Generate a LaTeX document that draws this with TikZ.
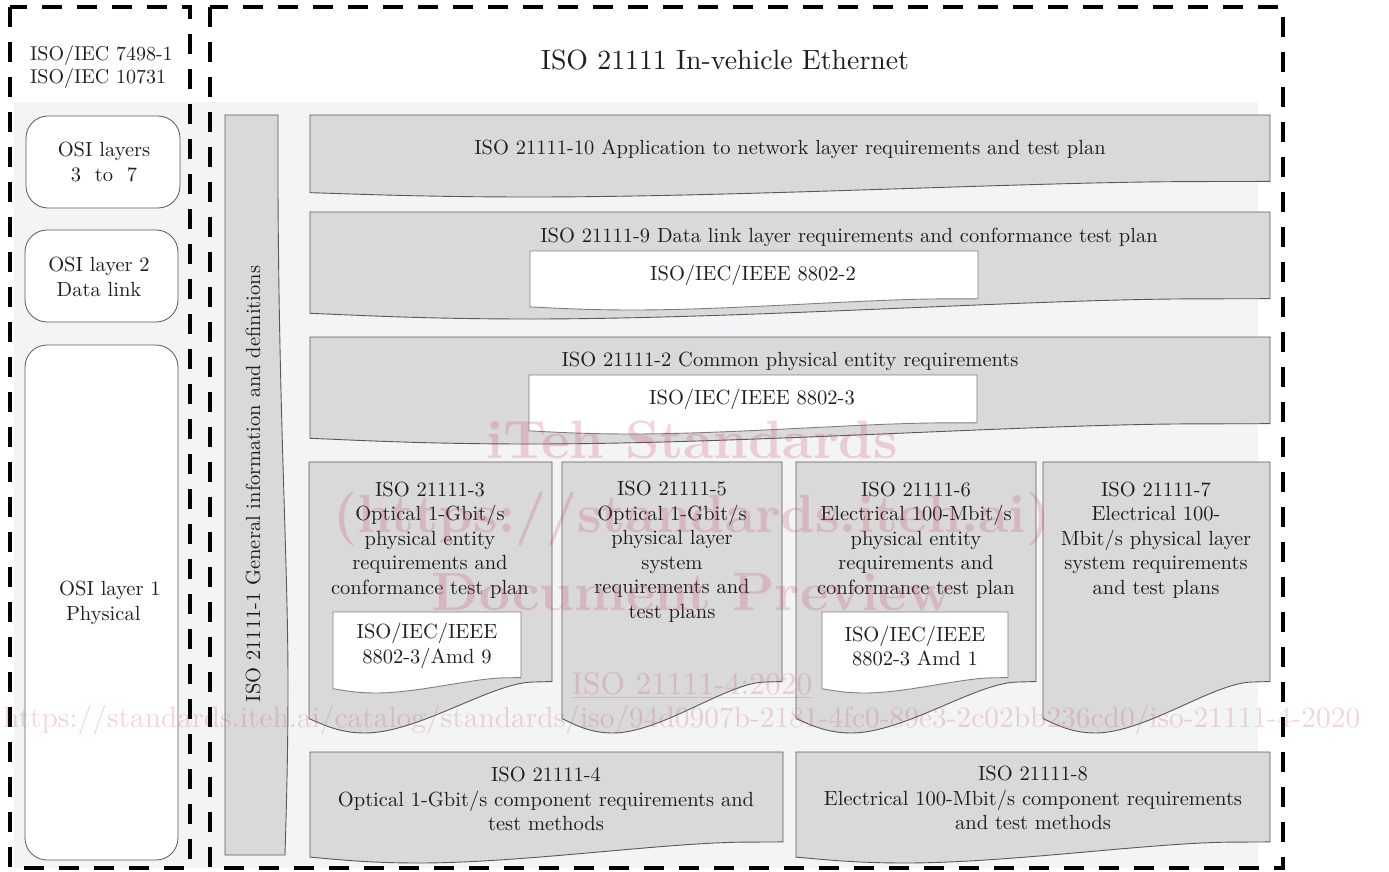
\documentclass[tikz,border=0pt]{standalone}
\usepackage{fontspec}
\setmainfont{lmroman10-regular.otf}[BoldFont=lmroman10-bold.otf]
\definecolor{boxgray}{HTML}{D9D9D8}
\definecolor{edgegray}{HTML}{595959}
\definecolor{inneredge}{HTML}{7F7F7F}
\definecolor{bgc}{HTML}{F3F4F6}
\definecolor{txtc}{HTML}{1E1E1E}
\definecolor{wmc}{HTML}{C8405E}
\newcommand\docpath[5]{%
  \pgfmathsetmacro\dW{#4-#2}%
  \pgfmathsetmacro\dH{#5-#3}%
  \path[#1] (#2,#3) -- (#4,#3) -- (#4,{#5-0.19*\dH})
    -- ({#4-0.08*\dW},{#5-0.188*\dH})
    .. controls ({#2+0.75*\dW},{#5-0.185*\dH}) and ({#2+0.45*\dW},#5) .. ({#2+0.23*\dW},#5)
    .. controls ({#2+0.12*\dW},#5) and ({#2+0.05*\dW},{#5-0.035*\dH}) .. (#2,{#5-0.053*\dH})
    -- cycle;}
\tikzset{
  boxs/.style={fill=boxgray, draw=edgegray, line width=0.9pt},
  whites/.style={fill=white, draw=inneredge, line width=0.9pt},
  osis/.style={fill=white, draw=edgegray, line width=0.8pt, rounded corners=22pt, inner sep=0pt},
  txt/.style={font=\fontsize{20.5}{24.5}\selectfont, text=txtc, align=center, inner sep=0pt},
  dashline/.style={draw=black, line width=4.5pt, dash pattern=on 20pt off 15pt},
  wm/.style={text=wmc, opacity=0.22, inner sep=0pt},
  wmbig/.style={wm, font=\bfseries\fontsize{54}{58}\selectfont}
}
\begin{document}
\begin{tikzpicture}[x=1pt,y=-1pt]
\useasboundingbox (0,0) rectangle (1389,872);
\fill[white] (0,0) rectangle (1389,872);
% background
\fill[bgc] (14,102) rectangle (1258,868);
% dashed frames
\draw[dashline] (10,7) rectangle (190,868);
\draw[dashline] (210,7) rectangle (1283,868);
% left column
\node[txt, align=left, anchor=west, font=\fontsize{20}{23}\selectfont] (isoiec) at (30,67) {ISO/IEC 7498-1\\ISO/IEC 10731};
\node[osis, minimum width=154pt, minimum height=92pt] (osi37) at (103,162) {};
\node[txt] (osi37t) at (104,162) {OSI layers\\3\ \ to\ \ 7};
\node[osis, minimum width=153pt, minimum height=92pt] (osi2) at (101.5,276) {};
\node[txt] (osi2t) at (99,277) {OSI layer 2\\Data link};
\node[osis, minimum width=153pt, minimum height=515pt] (osi1) at (101.5,602.5) {};
\node[txt, align=left, anchor=west] (osi1t) at (59,603) {OSI layer 1\\\ Physical};
% title
\node[txt, font=\fontsize{27.8}{31}\selectfont] (title) at (725,60) {ISO 21111 In-vehicle Ethernet};
% vertical box 21111-1
\path[boxs] (225,115) -- (278,115) -- (278,189) .. controls (279,420) and (288,560) .. (288,685) .. controls (288,760) and (286,820) .. (285,855) -- (225,855) -- cycle;
\node[txt, rotate=90] (p1) at (253,484) {ISO 21111-1 General information and definitions};
% horizontal boxes
\docpath{boxs}{310}{115}{1270}{197}
\node[txt] (p10) at (790,149) {ISO 21111-10 Application to network layer requirements and test plan};
\docpath{boxs}{310}{212}{1270}{319}
\node[txt] (p9) at (849,237) {ISO 21111-9 Data link layer requirements and conformance test plan};
\docpath{whites}{530}{251}{978}{310}
\node[txt] (i9) at (753,275) {ISO/IEC/IEEE 8802-2};
\docpath{boxs}{310}{337}{1270}{444}
\node[txt] (p2) at (790,361) {ISO 21111-2 Common physical entity requirements};
\docpath{whites}{529}{375}{977}{434}
\node[txt] (i2) at (752,399) {ISO/IEC/IEEE 8802-3};
% vertical document boxes
\docpath{boxs}{309}{462}{552}{733}
\node[txt] (p3) at (430,540) {ISO 21111-3\\Optical 1-Gbit/s\\physical entity\\requirements and\\conformance test plan};
\docpath{whites}{333}{612}{521}{693}
\node[txt] (i3) at (427,646) {ISO/IEC/IEEE\\8802-3/Amd 9};
\docpath{boxs}{562}{462}{782}{733}
\node[txt] (p5) at (672,552) {ISO 21111-5\\Optical 1-Gbit/s\\physical layer\\system\\requirements and\\test plans};
\docpath{boxs}{796}{462}{1036}{733}
\node[txt] (p6) at (916,540) {ISO 21111-6\\Electrical 100-Mbit/s\\physical entity\\requirements and\\conformance test plan};
\docpath{whites}{822}{612}{1008}{693}
\node[txt] (i6) at (915,646) {ISO/IEC/IEEE\\8802-3 Amd 1};
\docpath{boxs}{1043}{462}{1270}{733}
\node[txt] (p7) at (1156,540) {ISO 21111-7\\Electrical 100-\\Mbit/s physical layer\\system requirements\\and test plans};
% bottom boxes
\docpath{boxs}{310}{752}{783}{863}
\node[txt] (p4) at (546,799) {ISO 21111-4\\Optical 1-Gbit/s component requirements and\\test methods};
\docpath{boxs}{796}{752}{1270}{863}
\node[txt] (p8) at (1033,798) {ISO 21111-8\\Electrical 100-Mbit/s component requirements\\and test methods};
% watermark
\node[wmbig] (wm1) at (692,440) {iTeh Standards};
\node[wmbig] (wm2) at (692,519) {(https://standards.iteh.ai)};
\node[wmbig] (wm3) at (692,592) {Document Preview};
\node[wm, font=\fontsize{31.5}{35}\selectfont] (wm4) at (692,685) {\underline{ISO 21111-4:2020}};
\node[wm, anchor=west, font=\fontsize{29.4}{33}\selectfont] (wm5) at (3,720) {https://standards.iteh.ai/catalog/standards/iso/94d0907b-2181-4fc0-89e3-2c02bb236cd0/iso-21111-4-2020};
\end{tikzpicture}
\end{document}
